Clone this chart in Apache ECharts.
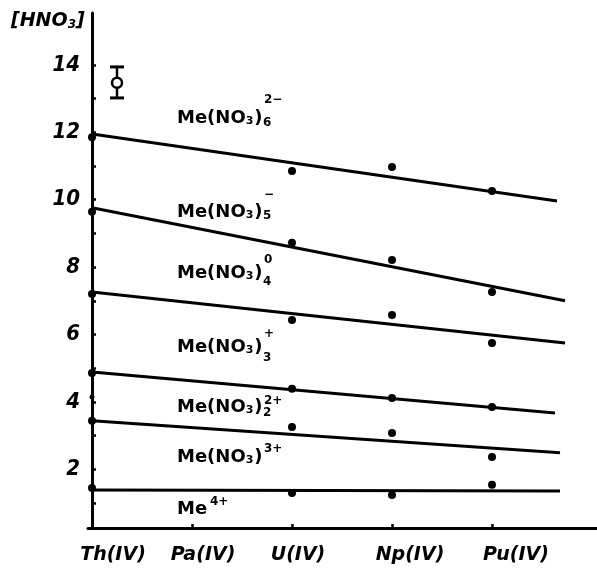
<!DOCTYPE html>
<html><head><meta charset="utf-8">
<script src="https://cdn.jsdelivr.net/npm/echarts@6/dist/echarts.min.js"></script>
<style>html,body{margin:0;padding:0;background:#fff}#c{width:597px;height:578px}</style>
</head><body><div id="c"></div>
<script>
// ---- data ----
const elements = ['Th(IV)', 'Pa(IV)', 'U(IV)', 'Np(IV)', 'Pu(IV)'];
const elementX = [0, 1, 2, 3, 4];
const yTickLabels = [2, 4, 6, 8, 10, 12, 14];
const yTicks = [1, 2, 3, 4, 5, 6, 7, 8, 9, 10, 11, 12, 13, 14];
const xTicks = [1, 2, 3, 4];
const dotsTh = [11.85, 9.64, 7.2, 4.86, 4.15, 3.44, 1.45];
const dotsU = [10.85, 8.72, 6.43, 4.39, 3.26, 1.30];
const dotsNp = [10.97, 8.21, 6.58, 4.12, 3.08, 1.24];
const dotsPu = [10.26, 7.26, 5.75, 3.85, 2.37, 1.54];
const fitStartY = [11.95, 9.76, 7.26, 4.89, 3.44, 1.39];
const fitEndX = [4.65, 4.73, 4.73, 4.63, 4.68, 4.68];
const fitEndY = [9.96, 7.0, 5.75, 3.67, 2.49, 1.36];
const errX = [0.25];
const errLow = [13.02];
const errMid = [13.47];
const errHigh = [13.94];
const speciesMain = ['Me(NO{n|3})', 'Me(NO{n|3})', 'Me(NO{n|3})', 'Me(NO{n|3})', 'Me(NO{n|3})', 'Me(NO{n|3})', 'Me'];
const speciesSub = ['6', '5', '4', '3', '2', '', ''];
const speciesSup = ['2−', '−', '0', '+', '2+', '3+', '4+'];
const yAxisTitle = '[HNO{n|3}]';

// ---- layout ----
const labelLeft = 177;
const labelCY = [118, 212, 273, 347, 407, 457, 509];
const subDY = [5, 4, 9, 11, 6, 0, 0];
const supDY = [-18, -17, -13, -13, -6, -8, -7];
const xLabelPad = [42, 22, 12, 36, 48];
const FONT = 'DejaVu Sans';

const chart = echarts.init(document.getElementById('c'), null, {renderer: 'canvas'});

const black = '#000';
const scatterData = [];
dotsTh.forEach((v, i) => scatterData.push(i === 4 ? {value: [elementX[0], v], symbolSize: 5} : [elementX[0], v]));
dotsU.forEach(v => scatterData.push([elementX[2], v]));
dotsNp.forEach(v => scatterData.push([elementX[3], v]));
dotsPu.forEach(v => scatterData.push([elementX[4], v]));

const lineSeries = fitStartY.map((s, i) => ({
  type: 'line',
  data: [[0, s], [fitEndX[i], fitEndY[i]]],
  symbol: 'none',
  lineStyle: {color: black, width: 3, opacity: 1},
  silent: true,
  z: 2
}));

const xRich = {};
elements.forEach((e, i) => {
  xRich['t' + i] = {fontFamily: FONT, fontWeight: 'bold', fontStyle: 'italic', fontSize: 19, color: black, padding: [0, 0, 0, xLabelPad[i]]};
});

const graphics = [];
graphics.push({
  type: 'text', left: 11, top: 12,
  style: {text: yAxisTitle, font: 'italic bold 19px "' + FONT + '"', fill: black,
    rich: {n: {fontSize: 12, fontWeight: 'bold', fontStyle: 'italic', fontFamily: FONT, verticalAlign: 'bottom', lineHeight: 14}}}
});
speciesMain.forEach((t, i) => {
  const isMe = t === 'Me';
  const mainW = isMe ? 31 : 85;
  graphics.push({
    type: 'text', x: labelLeft, y: labelCY[i],
    style: {text: t, font: 'bold 18px "' + FONT + '"', fill: black, verticalAlign: 'middle',
      rich: {n: {fontSize: 11, fontWeight: 'bold', fontFamily: FONT, verticalAlign: 'bottom', lineHeight: 12, padding: [0, 1, 0, 0]}}}
  });
  if (speciesSub[i]) {
    graphics.push({type: 'text', x: labelLeft + mainW + 1, y: labelCY[i] + subDY[i],
      style: {text: speciesSub[i], font: 'bold 12px "' + FONT + '"', fill: black, verticalAlign: 'middle'}});
  }
  graphics.push({type: 'text', x: labelLeft + mainW + 2, y: labelCY[i] + supDY[i],
    style: {text: speciesSup[i], font: 'bold 12px "' + FONT + '"', fill: black, verticalAlign: 'middle'}});
});

const option = {
  backgroundColor: '#fff',
  animation: false,
  grid: {left: 88, right: 0, top: 13, bottom: 50, containLabel: false, outerBoundsMode: 'none'},
  xAxis: {
    type: 'value', min: -0.04, max: 5.05,
    axisLine: {show: true, lineStyle: {color: black, width: 3}},
    axisTick: {show: true, inside: true, length: 4, lineStyle: {color: black, width: 2.5}, customValues: xTicks},
    axisLabel: {
      show: true, margin: 18, customValues: elementX,
      formatter: v => { const i = elementX.indexOf(Math.round(v)); return '{t' + i + '|' + elements[i] + '}'; },
      rich: xRich
    },
    splitLine: {show: false}
  },
  yAxis: {
    type: 'value', min: 0.26, max: 15.54,
    axisLine: {show: true, lineStyle: {color: black, width: 3}},
    axisTick: {show: true, inside: true, length: 4, lineStyle: {color: black, width: 2.5}, customValues: yTicks},
    axisLabel: {show: true, margin: 8, customValues: yTickLabels, color: black,
      fontFamily: 'DejaVu Sans Condensed', fontWeight: 'bold', fontStyle: 'italic', fontSize: 22},
    splitLine: {show: false}
  },
  graphic: graphics,
  series: [
    ...lineSeries,
    {
      type: 'scatter', data: scatterData, symbol: 'circle', symbolSize: 8,
      itemStyle: {color: black, opacity: 1}, z: 3, silent: true
    },
    {
      type: 'custom',
      data: errX.map((x, i) => [x, errLow[i], errMid[i], errHigh[i]]),
      encode: {x: 0, y: [1, 2, 3]},
      silent: true, z: 4,
      renderItem: (params, api) => {
        const x = api.value(0);
        const pLo = api.coord([x, api.value(1)]);
        const pMid = api.coord([x, api.value(2)]);
        const pHi = api.coord([x, api.value(3)]);
        const cap = 7;
        return {type: 'group', children: [
          {type: 'line', shape: {x1: pHi[0], y1: pHi[1], x2: pLo[0], y2: pLo[1]}, style: {stroke: black, lineWidth: 2.5}},
          {type: 'line', shape: {x1: pHi[0] - cap, y1: pHi[1], x2: pHi[0] + cap, y2: pHi[1]}, style: {stroke: black, lineWidth: 3}},
          {type: 'line', shape: {x1: pLo[0] - cap, y1: pLo[1], x2: pLo[0] + cap, y2: pLo[1]}, style: {stroke: black, lineWidth: 3}},
          {type: 'circle', shape: {cx: pMid[0], cy: pMid[1], r: 5}, style: {fill: '#fff', stroke: black, lineWidth: 2.5}}
        ]};
      }
    }
  ]
};
chart.setOption(option);
</script>
</body></html>
